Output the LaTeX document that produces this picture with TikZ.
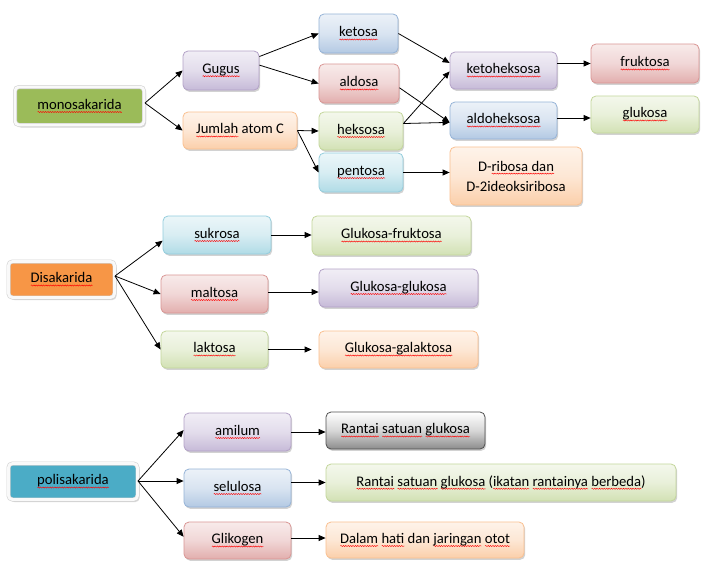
\documentclass[tikz,border=0pt]{standalone}
\usepackage{fontspec}
\setmainfont{Carlito}
\usetikzlibrary{arrows.meta,shadows,decorations.pathmorphing,calc}
\definecolor{purB}{HTML}{B3A2C7}\definecolor{purF}{HTML}{C6BAD8}
\definecolor{bluB}{HTML}{95B3D7}\definecolor{bluF}{HTML}{B3C9E3}
\definecolor{redB}{HTML}{D99694}\definecolor{redF}{HTML}{E2AEAD}
\definecolor{grnB}{HTML}{C3D69B}\definecolor{grnF}{HTML}{D2E1B4}
\definecolor{aquB}{HTML}{93CDDD}\definecolor{aquF}{HTML}{B0DBE6}
\definecolor{oraB}{HTML}{FAC090}\definecolor{oraF}{HTML}{FBCFAA}
\definecolor{gryB}{HTML}{505050}\definecolor{gryF}{HTML}{8C8C8C}
\definecolor{monoC}{HTML}{9BBB59}\definecolor{diC}{HTML}{F79646}\definecolor{poliC}{HTML}{4BACC6}
\newsavebox\wvbox
\newlength\wvlen
\makeatletter
\newcommand\wvclear{\let\tikz@preactions\pgfutil@empty\let\tikz@postactions\pgfutil@empty}
\makeatother
\newcommand\wv[1]{\sbox\wvbox{#1}\setlength\wvlen{\wd\wvbox}\rlap{\wvclear\tikz[baseline=0pt,sharp corners]{\wvclear\draw[sharp corners,red,line width=0.45pt,fill=none,decorate,decoration={snake,amplitude=0.55pt,segment length=2.4pt}] (0pt,-2.6pt) -- (\wvlen,-2.6pt);}}\usebox\wvbox}
\tikzset{
  bx/.style={draw=#1B, line width=0.8pt, rounded corners=5pt,
    top color=#1F!25!white, bottom color=#1F, middle color=#1F!50!white,
    drop shadow={shadow xshift=1.2pt, shadow yshift=-1.8pt, opacity=0.35},
    text=black, inner sep=0pt},
  graybx/.style={bx=gry, top color=white, bottom color=gryF, middle color=gryF!35!white},
  rootbx/.style={draw=gray!35, double=white!95!gray, double distance=2.8pt,
    line width=0.6pt, fill=#1, rounded corners=4pt,
    drop shadow={shadow xshift=2pt, shadow yshift=-2.5pt, opacity=0.3},
    text=black, inner sep=0pt},
  arr/.style={draw=black, line width=0.8pt, -{Triangle[length=7pt,width=6pt]}}
}
\begin{document}
\begin{tikzpicture}[x=1pt,y=-1pt,font=\fontsize{14.67}{20}\selectfont]
\useasboundingbox[fill=white] (0,0) rectangle (707,568);
% monosakarida
\node[rootbx=monoC, minimum width=129pt, minimum height=38pt] (mono) at (79.5,106) {\wv{monosakarida}};
\node[bx=pur, minimum width=76pt, minimum height=39pt] (gugus) at (221,70.5) {\wv{Gugus}};
\node[bx=ora, minimum width=114pt, minimum height=37pt] (jumlah) at (240,130.5) {\wv{Jumlah} atom C};
\node[bx=blu, minimum width=79pt, minimum height=39pt] (ketosa) at (358.5,33.5) {\wv{ketosa}};
\node[bx=red, minimum width=80pt, minimum height=39pt] (aldosa) at (359,83.5) {\wv{aldosa}};
\node[bx=grn, minimum width=84pt, minimum height=38pt] (heksosa) at (361,131) {\wv{heksosa}};
\node[bx=aqu, minimum width=84pt, minimum height=39pt] (pentosa) at (361,172.5) {\wv{pentosa}};
\node[bx=pur, minimum width=107pt, minimum height=37pt] (kh) at (503.5,70.5) {\wv{ketoheksosa}};
\node[bx=blu, minimum width=107pt, minimum height=37pt] (ah) at (503.5,120.5) {\wv{aldoheksosa}};
\node[bx=ora, minimum width=132pt, minimum height=58pt, align=center] (dr) at (516,176) {D-\wv{ribosa dan}\\D-2ideoksiribosa};
\node[bx=red, minimum width=108pt, minimum height=39pt] (fru) at (645,63.5) {\wv{fruktosa}};
\node[bx=grn, minimum width=108pt, minimum height=37pt] (glu) at (645,114.5) {\wv{glukosa}};
\coordinate (mj) at (145,103);
\draw[arr] (mj) -- (gugus.west);
\draw[arr] (mj) -- (jumlah.west);
\draw[arr] (gugus.20) -- (ketosa.west);
\draw[arr] (gugus.8) -- (aldosa.west);
\draw[arr] (jumlah.east) -- (heksosa.west);
\draw[arr] (jumlah.east) -- (pentosa.west);
\draw[arr] (ketosa.east) -- (kh.172);
\draw[arr] (aldosa.-6) -- (ah.182);
\draw[arr] (heksosa.10) -- (kh.181);
\draw[arr] (heksosa.10) -- (ah.182);
\draw[arr] (pentosa.east) -- (pentosa.east -| dr.west);
\draw[arr] (kh.east |- fru.west) -- (fru.west);
\draw[arr] ([yshift=2.5pt]ah.east) -- ([yshift=2.5pt]ah.east -| glu.west);
% disakarida
\node[rootbx=diC, minimum width=106pt, minimum height=36pt] (di) at (61.5,279.5) {\wv{Disakarida}};
\node[bx=aqu, minimum width=108pt, minimum height=38pt] (sukrosa) at (217,235) {\wv{sukrosa}};
\node[bx=grn, minimum width=159pt, minimum height=39pt] (gf) at (391.5,235.5) {\wv{Glukosa-fruktosa}};
\node[bx=red, minimum width=107pt, minimum height=38pt] (maltosa) at (214.5,294) {\wv{maltosa}};
\node[bx=pur, minimum width=159pt, minimum height=38pt] (gg) at (398.5,288) {\wv{Glukosa-glukosa}};
\node[bx=grn, minimum width=107pt, minimum height=37pt] (laktosa) at (214.5,349.5) {\wv{laktosa}};
\node[bx=ora, minimum width=159pt, minimum height=37pt] (gga) at (398.5,349.5) {\wv{Glukosa-galaktosa}};
\coordinate (dj) at (115,276);
\draw[arr] (dj) -- (sukrosa.186);
\draw[arr] (dj) -- (maltosa.west);
\draw[arr] (dj) -- (laktosa.west);
\draw[arr] (sukrosa.east) -- (sukrosa.east -| gf.west);
\draw[arr] ([yshift=2pt]maltosa.east) -- ([yshift=2pt]maltosa.east -| gg.west);
\draw[arr, shorten >=7pt] (laktosa.east) -- (laktosa.east -| gga.west);
% polisakarida
\node[rootbx=poliC, minimum width=129pt, minimum height=36pt] (poli) at (73,481.5) {\wv{polisakarida}};
\node[bx=pur, minimum width=107pt, minimum height=38pt] (amilum) at (237.5,432) {\wv{amilum}};
\node[graybx, minimum width=159pt, minimum height=37pt] (rantai) at (405.5,430.5) {\wv{Rantai} \wv{satuan} \wv{glukosa}};
\node[bx=blu, minimum width=107pt, minimum height=38pt] (selulosa) at (237.5,488) {\wv{selulosa}};
\node[bx=grn, minimum width=350pt, minimum height=37pt] (ikatan) at (501,482.5) {\wv{Rantai} \wv{satuan} \wv{glukosa} (\wv{ikatan} \wv{rantainya} \wv{berbeda})};
\node[bx=red, minimum width=107pt, minimum height=37pt] (glikogen) at (237.5,540.5) {\wv{Glikogen}};
\node[bx=ora, minimum width=198pt, minimum height=36pt] (dalam) at (425,540) {\wv{Dalam} \wv{hati} dan \wv{jaringan} \wv{otot}};
\coordinate (pj) at (138,481);
\draw[arr] (pj) -- (amilum.178);
\draw[arr] (pj) -- (pj -| selulosa.west);
\draw[arr] (pj) -- (glikogen.176);
\draw[arr] (amilum.east) -- (amilum.east -| rantai.west);
\draw[arr] (selulosa.east |- ikatan.west) -- (ikatan.west);
\draw[arr] ([yshift=2.5pt]glikogen.east) -- ([yshift=2.5pt]glikogen.east -| dalam.west);
\end{tikzpicture}
\end{document}
